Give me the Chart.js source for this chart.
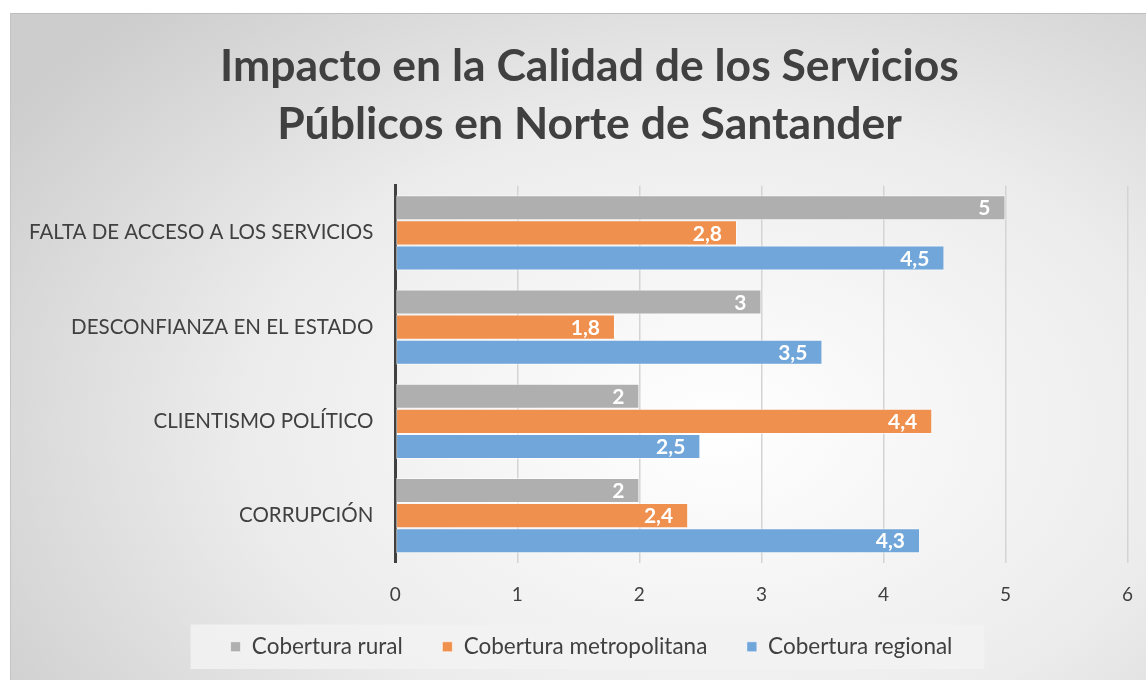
<!DOCTYPE html>
<html>
<head>
<meta charset="utf-8">
<script src="https://cdn.jsdelivr.net/npm/chart.js@4.4.0/dist/chart.umd.min.js"></script>
<style>
  html, body { margin: 0; padding: 0; background: #fff; overflow: hidden; }
  #wrap {
    position: absolute; left: 10px; top: 13px; width: 1136px; height: 667px;
    background: radial-gradient(ellipse 75% 85% at 62% 62%, #ffffff 0%, #ececec 55%, #cdcdcd 100%);
    border-top: 1px solid #bdbdbd; border-left: 1px solid #c4c4c4;
  }
  canvas { display: block; }
</style>
</head>
<body>
<div id="wrap"><canvas id="chart" width="1143" height="667"></canvas></div>
<script>
const categories = ['FALTA DE ACCESO A LOS SERVICIOS', 'DESCONFIANZA EN EL ESTADO', 'CLIENTISMO POLÍTICO', 'CORRUPCIÓN'];
const rural = [5, 3, 2, 2];
const metropolitana = [2.8, 1.8, 4.4, 2.4];
const regional = [4.5, 3.5, 2.5, 4.3];
const xTicks = [0, 1, 2, 3, 4, 5, 6];

const FONT = 'Lato, "Open Sans", sans-serif';
const TEXT = '#404040';

// etiquetas blancas al final de cada barra
const barLabels = {
  id: 'barLabels',
  afterDatasetsDraw(chart) {
    const ctx = chart.ctx;
    ctx.save();
    ctx.font = 'bold 21px ' + FONT;
    ctx.fillStyle = '#ffffff';
    ctx.textAlign = 'right';
    ctx.textBaseline = 'middle';
    chart.data.datasets.forEach((ds, i) => {
      chart.getDatasetMeta(i).data.forEach((bar, j) => {
        const txt = String(ds.data[j]).replace('.', ',');
        ctx.fillText(txt, bar.x - 15, bar.y + 1);
      });
    });
    ctx.restore();
  }
};

// el titulo y la leyenda del original estan un poco corridos
const nudge = {
  id: 'nudge',
  afterLayout(chart) {
    chart.titleBlock.left += 5;
    chart.titleBlock.right += 5;
    chart.legend.left += 7;
    chart.legend.right += 7;
    chart.legend.top -= 20;
    chart.legend.bottom -= 20;
  }
};

// caja gris detras de la leyenda
const legendBox = {
  id: 'legendBox',
  beforeDraw(chart) {
    const boxes = chart.legend.legendHitBoxes;
    if (!boxes || !boxes.length) return;
    const ctx = chart.ctx;
    let l = Infinity, r = -Infinity, t = Infinity, b = -Infinity;
    boxes.forEach(h => {
      l = Math.min(l, h.left); r = Math.max(r, h.left + h.width);
      t = Math.min(t, h.top); b = Math.max(b, h.top + h.height);
    });
    ctx.save();
    ctx.fillStyle = 'rgba(242,242,242,0.9)';
    ctx.fillRect(l - 40, t - 11, (r - l) + 72, (b - t) + 22);
    ctx.restore();
  }
};

new Chart(document.getElementById('chart'), {
  type: 'bar',
  data: {
    labels: categories,
    datasets: [
      { label: 'Cobertura rural', data: rural, backgroundColor: '#afafaf' },
      { label: 'Cobertura metropolitana', data: metropolitana, backgroundColor: '#ef904f' },
      { label: 'Cobertura regional', data: regional, backgroundColor: '#70a6da' }
    ]
  },
  options: {
    indexAxis: 'y',
    responsive: false,
    animation: false,
    devicePixelRatio: 1,
    layout: { padding: { left: 4, right: 0, top: 24, bottom: -7 } },
    datasets: {
      bar: {
        categoryPercentage: 0.8,
        barPercentage: 1,
        borderColor: 'rgba(255,255,255,0.55)',
        borderWidth: 1,
        borderSkipped: false
      }
    },
    plugins: {
      title: {
        display: true,
        text: ['Impacto en la Calidad de los Servicios', 'Públicos en Norte de Santander'],
        color: TEXT,
        font: { family: FONT, size: 44.5, weight: 'bold', lineHeight: 1.3 },
        padding: { top: 0, bottom: 32 }
      },
      legend: {
        position: 'bottom',
        labels: {
          color: TEXT,
          font: { family: FONT, size: 22.5 },
          boxWidth: 10,
          boxHeight: 10,
          padding: 28,
          generateLabels(chart) {
            const items = Chart.defaults.plugins.legend.labels.generateLabels(chart);
            items.forEach((it, i) => { if (i < items.length - 1) it.text += '  '; });
            return items;
          }
        }
      },
      tooltip: { enabled: false }
    },
    scales: {
      x: {
        min: 0,
        max: 6,
        ticks: {
          stepSize: 1,
          color: TEXT,
          font: { family: FONT, size: 19 },
          padding: 21,
          callback: v => xTicks.includes(v) ? String(v) : ''
        },
        grid: { color: '#d4d4d4', lineWidth: 1.5, drawTicks: false },
        border: { display: false }
      },
      y: {
        ticks: { color: TEXT, font: { family: FONT, size: 20.5 }, padding: 14 },
        grid: { display: false },
        border: { color: '#404040', width: 3 }
      }
    }
  },
  plugins: [barLabels, nudge, legendBox]
});
</script>
</body>
</html>
